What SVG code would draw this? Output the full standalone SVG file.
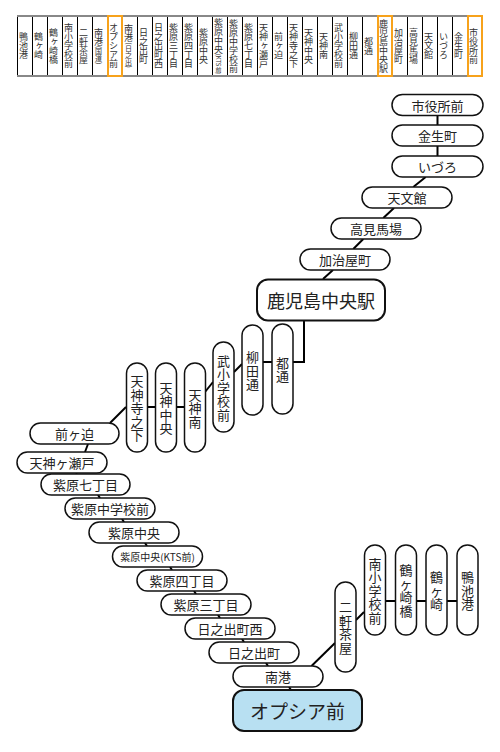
<svg xmlns="http://www.w3.org/2000/svg" width="500" height="752" viewBox="0 0 500 752">
<style>
text{font-family:"Noto Sans CJK JP","Noto Sans CJK SC",sans-serif;fill:#222}
.strip text{font-size:9px;writing-mode:vertical-rl;text-anchor:middle;dominant-baseline:central;fill:#333}
.div{stroke:#000;stroke-width:1}
.hl{fill:none;stroke:#f7a21b;stroke-width:2}
.pill{fill:#fff;stroke:#111;stroke-width:1.5}
.big{fill:#fff;stroke:#111;stroke-width:2}
.goal{fill:#b8e0f2;stroke:#111;stroke-width:2}
.h{font-size:13px;text-anchor:middle;dominant-baseline:central}
.v{font-size:13px;text-anchor:middle;dominant-baseline:central}
.f18{font-size:18px}
.f19{font-size:19px}
.f10{font-size:10px}
.conn line,.conn polyline{stroke:#000;stroke-width:2;fill:none}
</style>

<g id="strip" class="strip">
  <rect x="17" y="16" width="465" height="60" fill="#fff"/>
  <g class="div">
    <line x1="17.5" y1="16" x2="17.5" y2="76"/><line x1="32.5" y1="16" x2="32.5" y2="76"/><line x1="47.5" y1="16" x2="47.5" y2="76"/><line x1="62.5" y1="16" x2="62.5" y2="76"/><line x1="77.5" y1="16" x2="77.5" y2="76"/><line x1="92.5" y1="16" x2="92.5" y2="76"/><line x1="107.5" y1="16" x2="107.5" y2="76"/><line x1="122.5" y1="16" x2="122.5" y2="76"/><line x1="137.5" y1="16" x2="137.5" y2="76"/><line x1="152.5" y1="16" x2="152.5" y2="76"/><line x1="167.5" y1="16" x2="167.5" y2="76"/><line x1="182.5" y1="16" x2="182.5" y2="76"/><line x1="197.5" y1="16" x2="197.5" y2="76"/><line x1="212.5" y1="16" x2="212.5" y2="76"/><line x1="227.5" y1="16" x2="227.5" y2="76"/><line x1="242.5" y1="16" x2="242.5" y2="76"/><line x1="257.5" y1="16" x2="257.5" y2="76"/><line x1="272.5" y1="16" x2="272.5" y2="76"/><line x1="287.5" y1="16" x2="287.5" y2="76"/><line x1="302.5" y1="16" x2="302.5" y2="76"/><line x1="317.5" y1="16" x2="317.5" y2="76"/><line x1="332.5" y1="16" x2="332.5" y2="76"/><line x1="347.5" y1="16" x2="347.5" y2="76"/><line x1="362.5" y1="16" x2="362.5" y2="76"/><line x1="377.5" y1="16" x2="377.5" y2="76"/><line x1="392.5" y1="16" x2="392.5" y2="76"/><line x1="407.5" y1="16" x2="407.5" y2="76"/><line x1="422.5" y1="16" x2="422.5" y2="76"/><line x1="437.5" y1="16" x2="437.5" y2="76"/><line x1="452.5" y1="16" x2="452.5" y2="76"/><line x1="467.5" y1="16" x2="467.5" y2="76"/><line x1="482.5" y1="16" x2="482.5" y2="76"/>
  </g>
  <line x1="17" y1="16" x2="483" y2="16" stroke="#888" stroke-width="2"/>
  <line x1="17" y1="76" x2="483" y2="76" stroke="#888" stroke-width="2"/>
  <rect class="hl" x="108" y="16" width="14" height="60"/>
  <rect class="hl" x="378" y="16" width="14" height="60"/>
  <rect class="hl" x="468" y="16" width="14" height="60"/>
  <g transform="translate(-1.5 0)">
  <text x="25" y="46">鴨池港</text>
  <text x="40" y="46">鶴ヶ崎</text>
  <text x="55" y="46">鶴ヶ崎橋</text>
  <text x="70" y="46">南小学校前</text>
  <text x="85" y="46">二軒茶屋</text>
  <text x="100" y="46">南港<tspan font-size="7">(国道)</tspan></text>
  <text x="115" y="46">オプシア前</text>
  <text x="130" y="46">南港<tspan font-size="7">(日之出)</tspan></text>
  <text x="145" y="46">日之出町</text>
  <text x="160" y="46">日之出町西</text>
  <text x="175" y="46">紫原三丁目</text>
  <text x="190" y="46">紫原四丁目</text>
  <text x="205" y="46">紫原中央</text>
  <text x="220" y="46">紫原中央<tspan font-size="6">(KTS前)</tspan></text>
  <text x="235" y="46">紫原中学校前</text>
  <text x="250" y="46">紫原七丁目</text>
  <text x="265" y="46">天神ヶ瀬戸</text>
  <text x="280" y="46">前ヶ迫</text>
  <text x="295" y="46">天神寺之下</text>
  <text x="310" y="46">天神中央</text>
  <text x="325" y="46">天神南</text>
  <text x="340" y="46">武小学校前</text>
  <text x="355" y="46">柳田通</text>
  <text x="370" y="46">都通</text>
  <text x="385" y="46">鹿児島中央駅</text>
  <text x="400" y="46">加治屋町</text>
  <text x="415" y="46">高見馬場</text>
  <text x="430" y="46">天文館</text>
  <text x="445" y="46">いづろ</text>
  <text x="460" y="46">金生町</text>
  <text x="475" y="46">市役所前</text>
  </g>
</g>

<g id="connectors" class="conn">
  <line x1="437.5" y1="115" x2="437.5" y2="125"/>
  <line x1="437.5" y1="146" x2="437.5" y2="156"/>
  <line x1="425.7" y1="177" x2="413.3" y2="187"/>
  <line x1="394" y1="208" x2="383.3" y2="218"/>
  <line x1="363.3" y1="239" x2="353.3" y2="249"/>
  <line x1="333" y1="270" x2="323" y2="279"/>
  <polyline points="304,321 304,362 293,362"/>
  <line x1="263" y1="362" x2="272" y2="362"/>
  <line x1="242" y1="364" x2="234" y2="372"/>
  <line x1="213" y1="382" x2="205" y2="392"/>
  <line x1="176" y1="407" x2="184" y2="407"/>
  <line x1="148" y1="407" x2="155" y2="407"/>
  <line x1="126" y1="407" x2="110" y2="423"/>
  <line x1="88" y1="444" x2="85" y2="452"/>
  <line x1="76" y1="473" x2="77" y2="474"/>
  <line x1="98" y1="495" x2="100" y2="498"/>
  <line x1="122" y1="519" x2="124" y2="522"/>
  <line x1="145" y1="543" x2="147" y2="546"/>
  <line x1="170" y1="567" x2="172" y2="570"/>
  <line x1="194" y1="591" x2="196" y2="594"/>
  <line x1="218" y1="615" x2="220" y2="618"/>
  <line x1="242" y1="639" x2="244" y2="642"/>
  <line x1="266" y1="663" x2="268" y2="666"/>
  <line x1="289" y1="687" x2="291" y2="690"/>
  <line x1="311.5" y1="666" x2="335" y2="643"/>
  <line x1="356" y1="620" x2="364" y2="612"/>
  <line x1="385" y1="601" x2="395" y2="601"/>
  <line x1="416" y1="601" x2="426" y2="601"/>
  <line x1="447" y1="601" x2="457" y2="601"/>
</g>

<g id="n-shiyakushomae"><rect class="pill" x="392" y="94.5" width="91" height="21" rx="10.5"/><text class="h" x="437.5" y="105">市役所前</text></g>
<g id="n-kinseicho"><rect class="pill" x="392" y="125" width="91" height="21" rx="10.5"/><text class="h" x="437.5" y="135.5">金生町</text></g>
<g id="n-izuro"><rect class="pill" x="392" y="156" width="91" height="21" rx="10.5"/><text class="h" x="437.5" y="166.5">いづろ</text></g>
<g id="n-tenmonkan"><rect class="pill" x="362" y="187" width="90" height="21" rx="10.5"/><text class="h" x="407" y="197.5">天文館</text></g>
<g id="n-takamibaba"><rect class="pill" x="331" y="218" width="90" height="21" rx="10.5"/><text class="h" x="376" y="228.5">高見馬場</text></g>
<g id="n-kajiyacho"><rect class="pill" x="300" y="249" width="90" height="21" rx="10.5"/><text class="h" x="345" y="259.5">加治屋町</text></g>
<g id="n-chuo"><rect class="big" x="257" y="279.5" width="128" height="41" rx="11"/><text class="h f18" x="321" y="300">鹿児島中央駅</text></g>
<g id="n-miyakodori"><rect class="pill" x="272" y="324" width="21" height="90" rx="10.5"/><text class="v" x="282.5 282.5" y="362.25 375.75">都通</text></g>
<g id="n-yanagitadori"><rect class="pill" x="242" y="325" width="21" height="90" rx="10.5"/><text class="v" x="252.5 252.5 252.5" y="356.5 370 383.5">柳田通</text></g>
<g id="n-takeshogakko"><rect class="pill" x="213" y="342" width="21" height="90" rx="10.5"/><text class="v" x="223.5 223.5 223.5 223.5 223.5" y="360 373.5 387 400.5 414">武小学校前</text></g>
<g id="n-tenjinminami"><rect class="pill" x="184.5" y="363" width="21" height="89" rx="10.5"/><text class="v" x="195 195 195" y="394 407.5 421">天神南</text></g>
<g id="n-tenjinchuo"><rect class="pill" x="155.5" y="363" width="21" height="89" rx="10.5"/><text class="v" x="166 166 166 166" y="387.25 400.75 414.25 427.75">天神中央</text></g>
<g id="n-tenjinterano"><rect class="pill" x="126.5" y="363" width="21" height="89" rx="10.5"/><text class="v" x="137 137 137 137 137" y="380.5 394 407.5 421 434.5">天神寺之下</text></g>
<g id="n-maegasako"><rect class="pill" x="30" y="423" width="89" height="21" rx="10.5"/><text class="h" x="74.5" y="433.5">前ヶ迫</text></g>
<g id="n-tenjingaseto"><rect class="pill" x="17" y="452" width="90" height="21" rx="10.5"/><text class="h" x="62" y="462.5">天神ヶ瀬戸</text></g>
<g id="n-murasaki7"><rect class="pill" x="41" y="474" width="89" height="21" rx="10.5"/><text class="h" x="85.5" y="484.5">紫原七丁目</text></g>
<g id="n-murasakichugakko"><rect class="pill" x="65" y="498" width="90" height="21" rx="10.5"/><text class="h" x="110" y="508.5">紫原中学校前</text></g>
<g id="n-murasakichuo"><rect class="pill" x="89" y="522" width="90" height="21" rx="10.5"/><text class="h" x="134" y="532.5">紫原中央</text></g>
<g id="n-murasakikts"><rect class="pill" x="112.5" y="546" width="90" height="21" rx="10.5"/><text class="h f10" x="157.5" y="556.5">紫原中央(KTS前)</text></g>
<g id="n-murasaki4"><rect class="pill" x="137" y="570" width="90" height="21" rx="10.5"/><text class="h" x="182" y="580.5">紫原四丁目</text></g>
<g id="n-murasaki3"><rect class="pill" x="161" y="594" width="90" height="21" rx="10.5"/><text class="h" x="206" y="604.5">紫原三丁目</text></g>
<g id="n-hinodechonishi"><rect class="pill" x="185" y="618" width="90" height="21" rx="10.5"/><text class="h" x="230" y="628.5">日之出町西</text></g>
<g id="n-hinodecho"><rect class="pill" x="209" y="642" width="90" height="21" rx="10.5"/><text class="h" x="254" y="652.5">日之出町</text></g>
<g id="n-minamiko"><rect class="pill" x="233" y="666" width="90" height="21" rx="10.5"/><text class="h" x="278" y="676.5">南港</text></g>
<g id="n-opsia"><rect class="goal" x="233" y="690" width="129" height="41" rx="11"/><text class="h f19" x="297.5" y="710.5">オプシア前</text></g>
<g id="n-nikenchaya"><rect class="pill" x="335" y="582" width="21" height="90" rx="10.5"/><text class="v" x="345.5 345.5 345.5 345.5" y="606.75 620.25 633.75 647.25">二軒茶屋</text></g>
<g id="n-minamishogakko"><rect class="pill" x="364.5" y="545" width="21" height="90" rx="10.5"/><text class="v" x="375 375 375 375 375" y="563 576.5 590 603.5 617">南小学校前</text></g>
<g id="n-tsurugasakibashi"><rect class="pill" x="395.5" y="545" width="21" height="90" rx="10.5"/><text class="v" x="406 406 406 406" y="569.75 583.25 596.75 610.25">鶴ヶ崎橋</text></g>
<g id="n-tsurugasaki"><rect class="pill" x="426" y="545" width="21" height="90" rx="10.5"/><text class="v" x="436.5 436.5 436.5" y="576.5 590 603.5">鶴ヶ崎</text></g>
<g id="n-kamoikeko"><rect class="pill" x="457" y="545" width="21" height="90" rx="10.5"/><text class="v" x="467.5 467.5 467.5" y="576.5 590 603.5">鴨池港</text></g>
</svg>
